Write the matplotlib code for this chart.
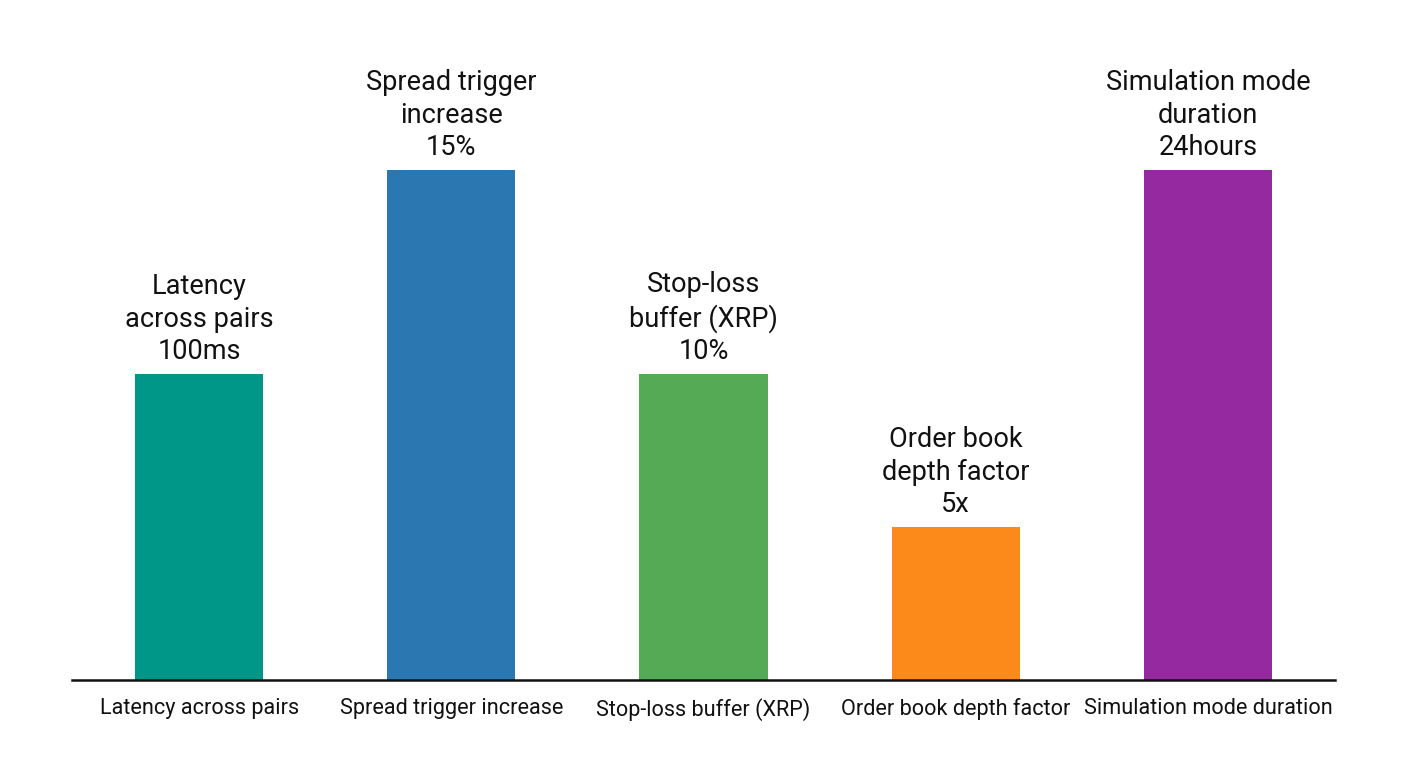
import matplotlib
matplotlib.use("Agg")
import matplotlib.pyplot as plt

categories = ["Latency across pairs", "Spread trigger increase", "Stop-loss buffer (XRP)",
              "Order book depth factor", "Simulation mode duration"]
bar_labels = ["Latency\nacross pairs\n100ms", "Spread trigger\nincrease\n15%",
              "Stop-loss\nbuffer (XRP)\n10%", "Order book\ndepth factor\n5x",
              "Simulation mode\nduration\n24hours"]
heights = [60, 100, 60, 30, 100]
colors = ["#009688", "#2A77B2", "#55AB55", "#FB8A1A", "#9529A0"]

plt.rcParams['font.family'] = ['Roboto', 'DejaVu Sans']

W, H = 1408, 768
fig = plt.figure(figsize=(W / 100, H / 100), dpi=100)
left, right, bottom, top = 72, 1335, 680, 60
ax = fig.add_axes([left / W, (H - bottom) / H, (right - left) / W, (bottom - top) / H])

x = list(range(len(categories)))
bars = ax.bar(x, heights, width=0.508, color=colors)
ax.set_xlim(-0.504, 4.504)
ax.set_ylim(0, 100 * (bottom - top) / 510)

for b, lab in zip(bars, bar_labels):
    ax.annotate(lab, (b.get_x() + b.get_width() / 2, b.get_height()),
                xytext=(0, 6.5), textcoords="offset points", ha="center", va="bottom",
                fontsize=19.5, linespacing=1.25, color="#111111")

ax.set_xticks(x)
ax.set_xticklabels(categories, fontsize=15.6, color="#111111")
ax.tick_params(axis="x", length=0, pad=13)
ax.set_yticks([])
for s in ["top", "right", "left"]:
    ax.spines[s].set_visible(False)
ax.spines["bottom"].set_linewidth(1.8)
ax.spines["bottom"].set_color("#111111")

fig.savefig("out.png", dpi=100)
